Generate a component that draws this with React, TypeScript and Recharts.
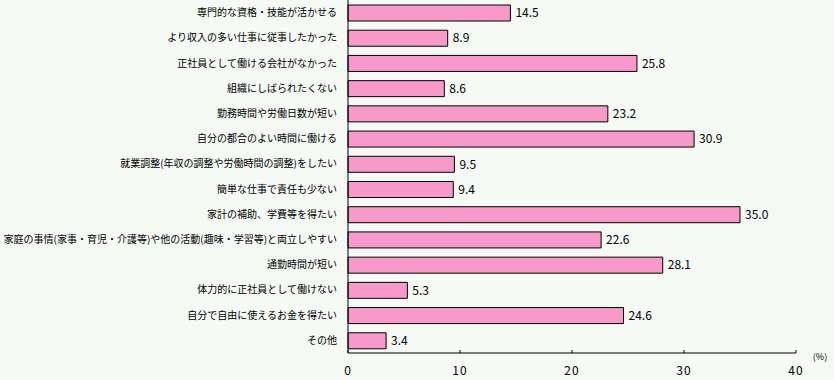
import React from 'react';
import { BarChart, Bar, XAxis, YAxis, LabelList } from 'recharts';

const categories = [
  '専門的な資格・技能が活かせる',
  'より収入の多い仕事に従事したかった',
  '正社員として働ける会社がなかった',
  '組織にしばられたくない',
  '勤務時間や労働日数が短い',
  '自分の都合のよい時間に働ける',
  '就業調整(年収の調整や労働時間の調整)をしたい',
  '簡単な仕事で責任も少ない',
  '家計の補助、学費等を得たい',
  '家庭の事情(家事・育児・介護等)や他の活動(趣味・学習等)と両立しやすい',
  '通勤時間が短い',
  '体力的に正社員として働けない',
  '自分で自由に使えるお金を得たい',
  'その他',
];
const values = [14.5, 8.9, 25.8, 8.6, 23.2, 30.9, 9.5, 9.4, 35.0, 22.6, 28.1, 5.3, 24.6, 3.4];
const xTicks = [0, 10, 20, 30, 40];
const unitLabel = '(%)';

const data = categories.map((name, i) => ({ name, value: values[i] }));

const FONT = '"Noto Sans CJK JP", "Noto Sans", sans-serif';

const YTick = (props: any) => {
  const { x, y, payload } = props;
  return (
    <text x={x} y={y} dy={3.5} textAnchor="end" fontSize={10} fontFamily={FONT} fill="#000">
      {payload.value}
    </text>
  );
};

const XTick = (props: any) => {
  const { x, y, payload } = props;
  return (
    <g>
      <line x1={x} x2={x} y1={y - 3} y2={y} stroke="#000" strokeWidth={1} />
      <text x={x} y={y + 22} textAnchor="middle" fontSize={12} fontFamily={FONT} fill="#000" letterSpacing={1}>
        {payload.value}
      </text>
    </g>
  );
};

const UnitLabel = (props: any) => {
  const vb = props.viewBox || {};
  return (
    <text x={vb.x + vb.width + 24} y={vb.y + 7} textAnchor="middle" fontSize={9} fontFamily={FONT} fill="#000">
      {unitLabel}
    </text>
  );
};

export default function App() {
  return (
    <div style={{ position: 'absolute', left: 0, top: 0, width: 834, height: 380, background: '#F5FAF5' }}>
      <BarChart
        width={834}
        height={380}
        data={data}
        layout="vertical"
        margin={{ top: 0, right: 38, bottom: 0, left: 0 }}
        barCategoryGap={0}
      >
        <XAxis
          type="number"
          domain={[0, 40]}
          ticks={xTicks}
          height={27}
          axisLine={{ stroke: '#000' }}
          tickLine={false}
          tickSize={0}
          tickMargin={0}
          tick={<XTick />}
          interval={0}
          label={<UnitLabel />}
        />
        <YAxis
          type="category"
          dataKey="name"
          width={348}
          axisLine={{ stroke: '#000' }}
          tickLine={false}
          tickSize={0}
          tickMargin={11}
          tick={<YTick />}
          interval={0}
        />
        <Bar dataKey="value" fill="#F79AC9" stroke="#000" strokeWidth={1} barSize={16} isAnimationActive={false}>
          <LabelList
            dataKey="value"
            position="right"
            offset={5}
            fontSize={12}
            fontFamily={FONT}
            fill="#000"
            formatter={(v: any) => Number(v).toFixed(1)}
          />
        </Bar>
      </BarChart>
    </div>
  );
}
